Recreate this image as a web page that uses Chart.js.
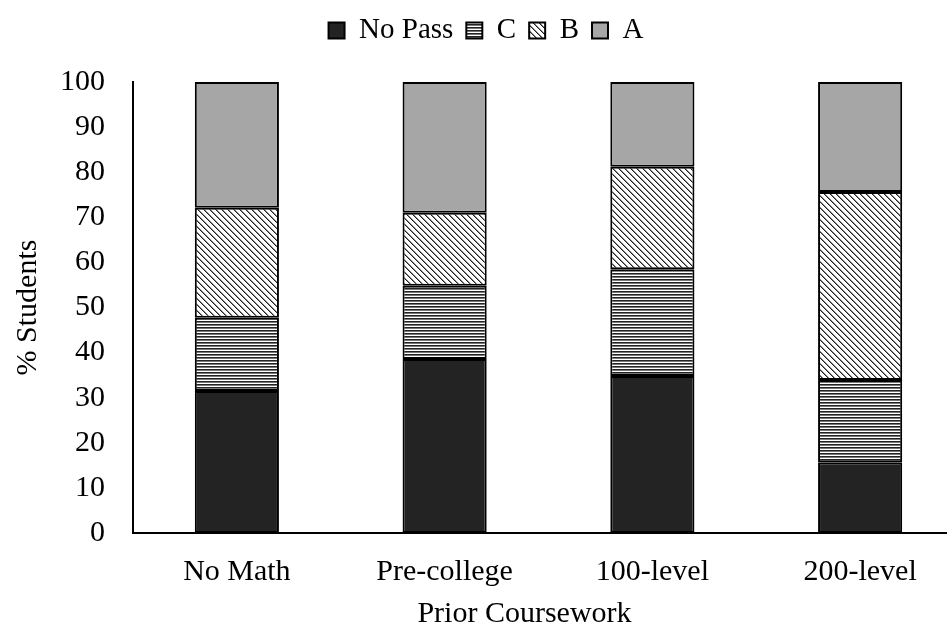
<!DOCTYPE html>
<html>
<head>
<meta charset="utf-8">
<script src="https://cdn.jsdelivr.net/npm/chart.js@4"></script>
<style>
    body { margin: 0; background: #fff; overflow: hidden; }
    #wrap { width: 975px; height: 635px; position: relative; }
</style>
</head>
<body>
<div id="wrap"><canvas id="gradesChart"></canvas></div>
<script>
const categories = ['No Math', 'Pre-college', '100-level', '200-level'];
const noPassValues = [31.5, 38.6, 34.8, 15.7];
const cValues = [16.2, 16.2, 23.7, 18.2];
const bValues = [24.4, 16.2, 22.7, 41.7];
const aValues = [27.9, 29.0, 18.8, 24.4];
const yTicks = [0, 10, 20, 30, 40, 50, 60, 70, 80, 90, 100];

const serif = 'Liberation Serif';
const fontSize = 30;

// small pixel tiles for the hatched fills
function makePattern(size, paint) {
    const tile = document.createElement('canvas');
    tile.width = size;
    tile.height = size;
    const ctx = tile.getContext('2d');
    ctx.fillStyle = '#fff';
    ctx.fillRect(0, 0, size, size);
    paint(ctx, size);
    return ctx.createPattern(tile, 'repeat');
}

const horizontalLines = makePattern(3, (ctx, size) => {
    ctx.fillStyle = '#222';
    ctx.fillRect(0, 0, size, 1);
    ctx.fillStyle = '#777';
    ctx.fillRect(0, 1, size, 1);
});

const diagonalLines = makePattern(6, (ctx, size) => {
    for (let i = 0; i < size; i++) {
        ctx.fillStyle = '#222';
        ctx.fillRect(i, i, 1, 1);
        ctx.fillStyle = '#888';
        ctx.fillRect((i + 1) % size, i, 1, 1);
    }
});

const segmentStyle = {
    borderColor: '#000',
    borderWidth: 2,
    borderSkipped: false,
    barPercentage: 0.405,
    categoryPercentage: 1.0
};

// push the plot down below the legend like the original
const legendSpacer = {
    id: 'legendSpacer',
    beforeInit(chart) {
        const fit = chart.legend.fit;
        chart.legend.fit = function () {
            fit.bind(chart.legend)();
            this.height = 79;
        };
    }
};

const canvas = document.querySelector('#gradesChart');

canvas.chartInstance = new Chart(canvas, {
    type: 'bar',
    data: {
        labels: categories,
        datasets: [
            { label: 'No Pass', data: noPassValues, backgroundColor: '#232323', ...segmentStyle },
            { label: 'C', data: cValues, backgroundColor: horizontalLines, ...segmentStyle },
            { label: 'B', data: bValues, backgroundColor: diagonalLines, ...segmentStyle },
            { label: 'A', data: aValues, backgroundColor: '#a6a6a6', ...segmentStyle }
        ]
    },
    plugins: [legendSpacer],
    options: {
        responsive: true,
        maintainAspectRatio: false,
        animation: false,
        layout: {
            padding: { top: 3, right: 11, bottom: 3, left: 8 }
        },
        scales: {
            x: {
                stacked: true,
                afterFit: (axis) => {
                    axis.height = 99;
                    // the original title sits a little left of the plot centre
                    if (!axis.titleShifted) {
                        const drawTitle = axis.drawTitle;
                        axis.drawTitle = function () {
                            this.ctx.save();
                            this.ctx.translate(-24, 0);
                            drawTitle.call(this);
                            this.ctx.restore();
                        };
                        axis.titleShifted = true;
                    }
                },
                grid: { display: false, drawTicks: false },
                border: { display: true, color: '#000', width: 2 },
                ticks: {
                    color: '#000',
                    padding: 21,
                    font: { family: serif, size: fontSize }
                },
                title: {
                    display: true,
                    text: 'Prior Coursework',
                    color: '#000',
                    padding: { top: 0, bottom: 0 },
                    font: { family: serif, size: fontSize }
                }
            },
            y: {
                stacked: true,
                min: 0,
                max: 100,
                afterBuildTicks: (axis) => {
                    axis.ticks = yTicks.map(value => ({ value }));
                },
                afterFit: (axis) => {
                    axis.width = 125;
                },
                grid: { display: false, drawTicks: false },
                border: { display: true, color: '#000', width: 2 },
                ticks: {
                    color: '#000',
                    padding: 28,
                    font: { family: serif, size: fontSize }
                },
                title: {
                    display: true,
                    text: '% Students',
                    color: '#000',
                    padding: { top: 2, bottom: 0 },
                    font: { family: serif, size: fontSize }
                }
            }
        },
        plugins: {
            legend: {
                display: true,
                position: 'top',
                labels: {
                    color: '#000',
                    boxWidth: 16,
                    boxHeight: 16,
                    padding: 13,
                    font: { family: serif, size: 29 }
                }
            },
            tooltip: { enabled: false }
        }
    }
});
</script>
</body>
</html>
